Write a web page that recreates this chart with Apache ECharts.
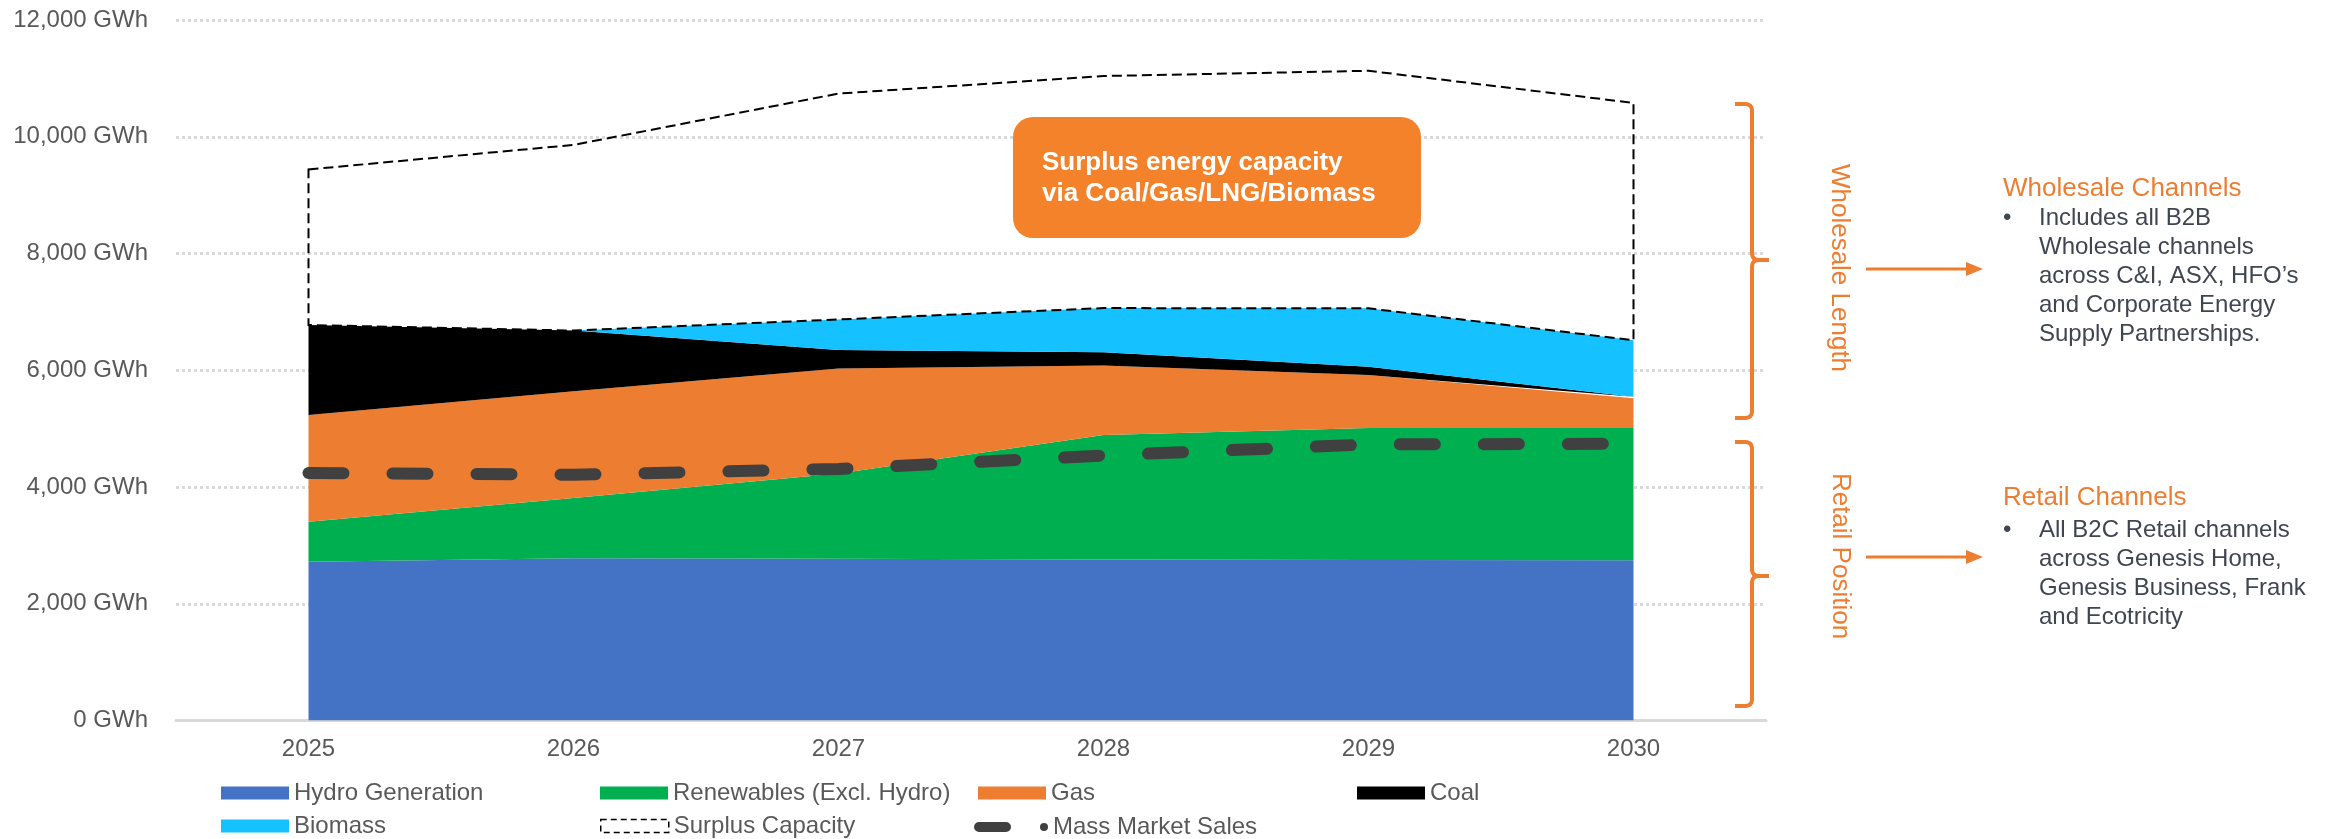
<!DOCTYPE html>
<html>
<head>
<meta charset="utf-8">
<title>Generation mix and channel position 2025–2030</title>
<script src="https://cdn.jsdelivr.net/npm/echarts@6.0.0/dist/echarts.min.js"></script>
<style>
  html, body { margin: 0; padding: 0; background: #ffffff; }
  #chart { width: 2333px; height: 839px; }
</style>
</head>
<body>
<div id="chart"></div>
<script>
// Years on the category axis
const years = ['2025', '2026', '2027', '2028', '2029', '2030'];

// Generation by source, GWh (stacked)
const hydroGeneration = [2720, 2780, 2770, 2760, 2750, 2745];
const renewablesExHydro = [685, 1030, 1460, 2130, 2260, 2265];
const gasGeneration = [1830, 1830, 1800, 1190, 910, 510];
const coalGeneration = [1540, 1040, 315, 230, 140, 25];
const biomassGeneration = [0, 0, 525, 755, 1000, 970];

// Upper edge of the surplus capacity envelope, GWh
const surplusCapacity = [9440, 9860, 10740, 11040, 11130, 10580];

// Mass market sales, GWh
const massMarketSales = [4240, 4210, 4310, 4540, 4730, 4740];

// Value axis ticks
const yTicks = [0, 2000, 4000, 6000, 8000, 10000, 12000];
const yUnit = ' GWh';

// Top of the generation stack per year
const stackTotal = years.map((_, i) =>
  hydroGeneration[i] + renewablesExHydro[i] + gasGeneration[i] + coalGeneration[i] + biomassGeneration[i]);

const FONT = '"Liberation Sans", Arial, Helvetica, sans-serif';
const GREY_TEXT = '#595959';
const ORANGE = '#ED7D31';
const BODY_TEXT = '#404552';

const chart = echarts.init(document.getElementById('chart'), null, { renderer: 'canvas' });

function areaSeries(name, data, color) {
  return {
    name: name,
    type: 'line',
    stack: 'generation',
    data: data,
    color: color,
    symbol: 'none',
    lineStyle: { width: 0, color: color },
    itemStyle: { color: color },
    areaStyle: { color: color, opacity: 1 },
    emphasis: { disabled: true },
    z: 2
  };
}

function legendAt(left, top, item, w, h) {
  return {
    left: left,
    top: top,
    padding: 0,
    itemWidth: w || 68,
    itemHeight: h || 13,
    icon: 'rect',
    selectedMode: false,
    textStyle: { fontFamily: FONT, fontSize: 24, color: GREY_TEXT },
    data: [item]
  };
}

// Rounded dash followed by a dot, for the sales line key
const salesIcon = 'path://M5,0 L32,0 A5,5 0 0 1 32,10 L5,10 A5,5 0 0 1 5,0 Z M70,1 A4,4 0 1 1 70,9 A4,4 0 1 1 70,1 Z';

// Points along a quadratic curve
function quad(p0, c, p1, n) {
  const pts = [];
  for (let k = 1; k <= n; k++) {
    const t = k / n, u = 1 - t;
    pts.push([u * u * p0[0] + 2 * u * t * c[0] + t * t * p1[0],
              u * u * p0[1] + 2 * u * t * c[1] + t * t * p1[1]]);
  }
  return pts;
}

// Right curly brace from yTop to yBottom with its point at yMid
function brace(yTop, yMid, yBottom) {
  const xl = 1735, xv = 1752, xn = 1769, r = 7;
  const upper = [[xl, yTop], [xv - r, yTop]]
    .concat(quad([xv - r, yTop], [xv, yTop], [xv, yTop + r], 6))
    .concat([[xv, yMid - r]])
    .concat(quad([xv, yMid - r], [xv, yMid], [xv + r, yMid], 6))
    .concat([[xn, yMid]]);
  const lower = [[xn, yMid], [xv + r, yMid]]
    .concat(quad([xv + r, yMid], [xv, yMid], [xv, yMid + r], 6))
    .concat([[xv, yBottom - r]])
    .concat(quad([xv, yBottom - r], [xv, yBottom], [xv - r, yBottom], 6))
    .concat([[xl, yBottom]]);
  const style = { fill: null, stroke: ORANGE, lineWidth: 4, lineJoin: 'round' };
  return [
    { type: 'polyline', z: 100, shape: { points: upper }, style: style },
    { type: 'polyline', z: 100, shape: { points: lower }, style: style }
  ];
}

function arrow(y) {
  return [
    { type: 'line', z: 100, shape: { x1: 1866, y1: y, x2: 1970, y2: y },
      style: { stroke: ORANGE, lineWidth: 3 } },
    { type: 'polygon', z: 100, shape: { points: [[1966, y - 7], [1983, y], [1966, y + 7]] },
      style: { fill: ORANGE } }
  ];
}

const option = {
  backgroundColor: '#ffffff',
  animation: false,
  grid: { left: 176, right: 567, top: 20, bottom: 118.5, containLabel: false },
  xAxis: {
    type: 'category',
    data: years,
    boundaryGap: true,
    axisLine: { show: true, lineStyle: { color: '#D9D9D9', width: 3 } },
    axisTick: { show: false },
    axisLabel: { fontFamily: FONT, fontSize: 24, color: GREY_TEXT, margin: 17 },
    splitLine: { show: false }
  },
  yAxis: {
    type: 'value',
    min: yTicks[0],
    max: yTicks[yTicks.length - 1],
    interval: yTicks[1] - yTicks[0],
    axisLine: { show: false },
    axisTick: { show: false },
    axisLabel: {
      fontFamily: FONT, fontSize: 24, color: GREY_TEXT, margin: 28,
      formatter: v => v.toLocaleString('en-US') + yUnit
    },
    splitLine: { show: true, lineStyle: { color: '#D9D9D9', width: 3, type: [3, 3] } }
  },
  legend: [
    legendAt(221, 781, 'Hydro Generation'),
    legendAt(600, 781, 'Renewables (Excl. Hydro)'),
    legendAt(978, 781, 'Gas'),
    legendAt(1357, 781, 'Coal'),
    legendAt(221, 814, 'Biomass'),
    legendAt(600, 814, {
      name: 'Surplus Capacity', icon: 'rect',
      itemStyle: { color: 'rgba(0,0,0,0)', borderColor: '#000000', borderWidth: 1.5, borderType: [6, 4] }
    }),
    legendAt(974, 815, { name: 'Mass Market Sales', icon: salesIcon, itemStyle: { color: '#404040' } }, 74, 10)
  ],
  series: [
    areaSeries('Hydro Generation', hydroGeneration, '#4472C4'),
    areaSeries('Renewables (Excl. Hydro)', renewablesExHydro, '#00B050'),
    areaSeries('Gas', gasGeneration, '#ED7D31'),
    areaSeries('Coal', coalGeneration, '#000000'),
    areaSeries('Biomass', biomassGeneration, '#15C2FF'),
    {
      name: 'Surplus Capacity',
      type: 'custom',
      color: '#000000',
      data: years.map((_, i) => [i, surplusCapacity[i]]),
      encode: { x: 0, y: 1 },
      z: 4,
      silent: true,
      renderItem: function (params, api) {
        if (params.dataIndex !== 0) return null;
        const upper = surplusCapacity.map((v, i) => api.coord([i, v]));
        const lower = stackTotal.map((v, i) => api.coord([i, v])).reverse();
        return {
          type: 'polygon',
          shape: { points: upper.concat(lower) },
          style: { fill: null, stroke: '#000000', lineWidth: 2, lineDash: [10, 5] }
        };
      }
    },
    {
      name: 'Mass Market Sales',
      type: 'line',
      data: massMarketSales,
      color: '#404040',
      symbol: 'none',
      lineStyle: { color: '#404040', width: 12, type: [35, 49], cap: 'round' },
      emphasis: { disabled: true },
      z: 5
    }
  ],
  graphic: [
    // Callout box
    {
      type: 'rect', z: 100,
      shape: { x: 1013, y: 117, width: 408, height: 121, r: 20 },
      style: { fill: '#F4822A' }
    },
    {
      type: 'text', z: 101, x: 1042, y: 147.5,
      style: {
        text: 'Surplus energy capacity\nvia Coal/Gas/LNG/Biomass',
        fontFamily: FONT, fontSize: 26, fontWeight: 'bold', lineHeight: 31,
        fill: '#ffffff', align: 'left', verticalAlign: 'top'
      }
    },
    // Braces
    ...brace(104, 260, 418),
    ...brace(442, 576, 706),
    // Vertical brace labels
    {
      type: 'text', z: 100, x: 1839, y: 268, rotation: -Math.PI / 2,
      style: { text: 'Wholesale Length', fontFamily: FONT, fontSize: 26, fill: ORANGE,
               align: 'center', verticalAlign: 'middle' }
    },
    {
      type: 'text', z: 100, x: 1840, y: 556, rotation: -Math.PI / 2,
      style: { text: 'Retail Position', fontFamily: FONT, fontSize: 26, fill: ORANGE,
               align: 'center', verticalAlign: 'middle' }
    },
    ...arrow(269),
    ...arrow(557),
    // Wholesale channels note
    {
      type: 'text', z: 100, x: 2003, y: 189,
      style: { text: 'Wholesale Channels', fontFamily: FONT, fontSize: 26, fill: ORANGE,
               align: 'left', verticalAlign: 'middle' }
    },
    {
      type: 'text', z: 100, x: 2003, y: 203.5,
      style: { text: '•', fontFamily: FONT, fontSize: 24, lineHeight: 29, fill: BODY_TEXT,
               align: 'left', verticalAlign: 'top' }
    },
    {
      type: 'text', z: 100, x: 2039, y: 203.5,
      style: {
        text: 'Includes all B2B\nWholesale channels\nacross C&I, ASX, HFO’s\nand Corporate Energy\nSupply Partnerships.',
        fontFamily: FONT, fontSize: 24, lineHeight: 29, fill: BODY_TEXT,
        align: 'left', verticalAlign: 'top'
      }
    },
    // Retail channels note
    {
      type: 'text', z: 100, x: 2003, y: 498,
      style: { text: 'Retail Channels', fontFamily: FONT, fontSize: 26, fill: ORANGE,
               align: 'left', verticalAlign: 'middle' }
    },
    {
      type: 'text', z: 100, x: 2003, y: 515.5,
      style: { text: '•', fontFamily: FONT, fontSize: 24, lineHeight: 29, fill: BODY_TEXT,
               align: 'left', verticalAlign: 'top' }
    },
    {
      type: 'text', z: 100, x: 2039, y: 515.5,
      style: {
        text: 'All B2C Retail channels\nacross Genesis Home,\nGenesis Business, Frank\nand Ecotricity',
        fontFamily: FONT, fontSize: 24, lineHeight: 29, fill: BODY_TEXT,
        align: 'left', verticalAlign: 'top'
      }
    }
  ]
};

chart.setOption(option);
</script>
</body>
</html>
